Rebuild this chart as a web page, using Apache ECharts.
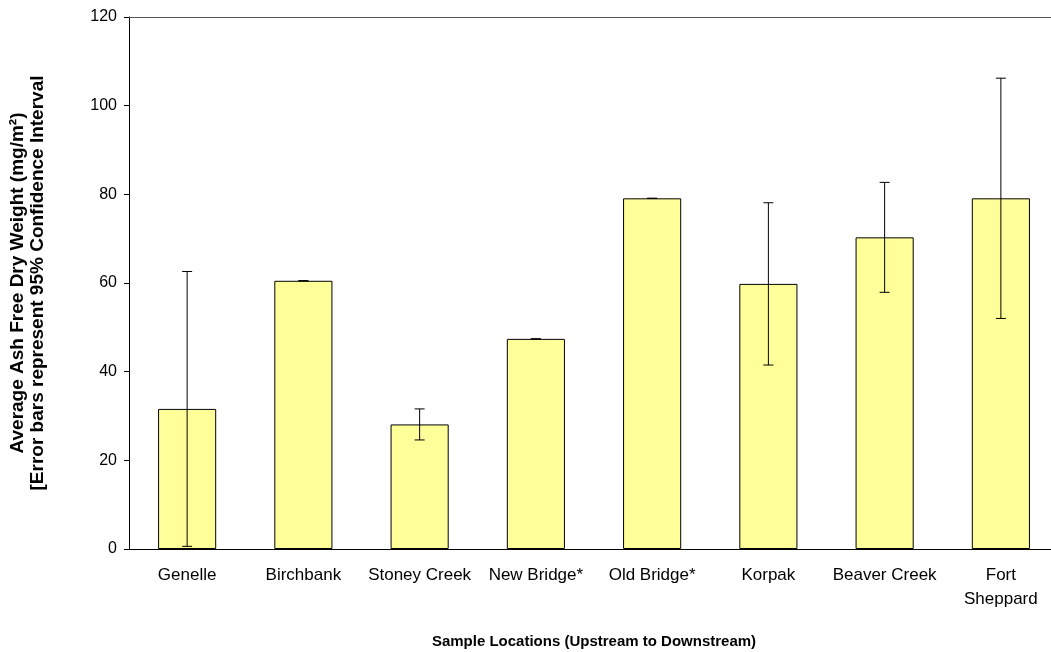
<!DOCTYPE html>
<html>
<head>
<meta charset="utf-8">
<script src="https://cdn.jsdelivr.net/npm/echarts@6/dist/echarts.min.js"></script>
<style>
  html, body { margin: 0; padding: 0; background: #fff; overflow: hidden; }
  #wrap { width: 1051px; height: 652px; overflow: hidden; }
  #chart { width: 1060px; height: 652px; }
</style>
</head>
<body>
<div id="wrap"><div id="chart"></div></div>
<script>
// Sample sites, upstream to downstream
const sites = ['Genelle', 'Birchbank', 'Stoney Creek', 'New Bridge*', 'Old Bridge*', 'Korpak', 'Beaver Creek', 'Fort\nSheppard'];
// Mean ash free dry weight (mg/m²)
const meanAFDW = [31.6, 60.5, 28.1, 47.4, 79.1, 59.8, 70.3, 79.1];
// Half-width of the 95% confidence interval
const ci95 = [31.0, 0, 3.5, 0, 0, 18.3, 12.4, 27.1];
// Value axis ticks
const yTicks = [0, 20, 40, 60, 80, 100, 120];

const FONT = '"Liberation Sans", Arial, sans-serif';

const errorData = sites.map((s, i) => [i, meanAFDW[i] - ci95[i], meanAFDW[i] + ci95[i]]);

const chart = echarts.init(document.getElementById('chart'), null, { renderer: 'canvas' });

chart.setOption({
  animation: false,
  backgroundColor: '#ffffff',
  textStyle: { fontFamily: FONT },
  grid: { left: 129, top: 17, bottom: 103, right: 1, containLabel: false, outerBoundsMode: 'none', show: false },
  xAxis: [
    {
      type: 'category',
      data: sites,
      position: 'bottom',
      axisLine: { show: true, lineStyle: { color: '#000', width: 1 } },
      axisTick: { show: false },
      axisLabel: { color: '#000', fontSize: 17, fontFamily: FONT, margin: 14, lineHeight: 24, interval: 0 },
      name: 'Sample Locations (Upstream to Downstream)',
      nameLocation: 'middle',
      nameGap: 85,
      nameTextStyle: { color: '#000', fontSize: 15, fontWeight: 'bold', fontFamily: FONT }
    },
    {
      // plain frame line along the top of the plot
      type: 'category',
      data: sites,
      position: 'top',
      axisLine: { show: true, lineStyle: { color: '#555', width: 1 } },
      axisTick: { show: false },
      axisLabel: { show: false }
    }
  ],
  yAxis: {
    type: 'value',
    min: yTicks[0],
    max: yTicks[yTicks.length - 1],
    interval: yTicks[1] - yTicks[0],
    axisLine: { show: true, lineStyle: { color: '#000', width: 1 } },
    axisTick: { show: true, length: 5, inside: false, lineStyle: { color: '#000' } },
    axisLabel: { color: '#000', fontSize: 16, fontFamily: FONT, margin: 12 },
    splitLine: { show: false }
  },
  graphic: [
    {
      type: 'text',
      x: 28,
      y: 283,
      rotation: Math.PI / 2,
      style: {
        text: 'Average Ash Free Dry Weight (mg/m²)\n[Error bars represent 95% Confidence Interval',
        fill: '#000',
        font: 'bold 19px ' + FONT,
        align: 'center',
        verticalAlign: 'middle',
        lineHeight: 20
      }
    }
  ],
  series: [
    {
      type: 'bar',
      data: meanAFDW,
      barWidth: '50%',
      itemStyle: { color: '#FFFF99', borderColor: '#000', borderWidth: 1 }
    },
    {
      type: 'custom',
      data: errorData,
      z: 10,
      renderItem: function (params, api) {
        const x = api.value(0);
        const lo = api.coord([x, api.value(1)]);
        const hi = api.coord([x, api.value(2)]);
        const cap = 5;
        const style = { stroke: '#000', lineWidth: 1 };
        return {
          type: 'group',
          children: [
            { type: 'line', shape: { x1: lo[0], y1: lo[1], x2: hi[0], y2: hi[1] }, style: style },
            { type: 'line', shape: { x1: hi[0] - cap, y1: hi[1], x2: hi[0] + cap, y2: hi[1] }, style: style },
            { type: 'line', shape: { x1: lo[0] - cap, y1: lo[1], x2: lo[0] + cap, y2: lo[1] }, style: style }
          ]
        };
      }
    }
  ]
});
</script>
</body>
</html>
